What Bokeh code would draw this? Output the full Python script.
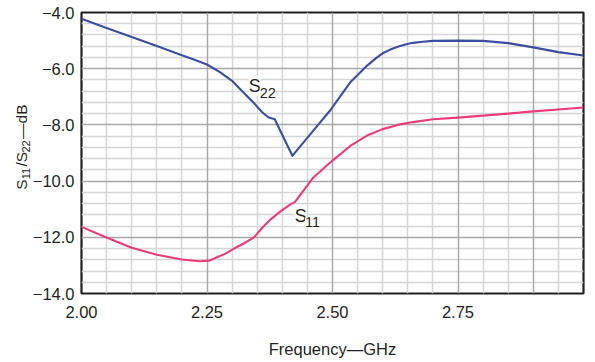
from bokeh.plotting import figure
from bokeh.models import Range1d, FixedTicker, Grid, Label
from bokeh.embed import file_html
from bokeh.resources import INLINE

# ---- data ----
freq_s22 = [2.00, 2.05, 2.10, 2.15, 2.20, 2.225, 2.25, 2.275, 2.30, 2.325, 2.345, 2.36,
            2.372, 2.385, 2.42, 2.456, 2.496, 2.51, 2.536, 2.569, 2.585, 2.601, 2.615,
            2.63, 2.645, 2.66, 2.68, 2.70, 2.75, 2.80, 2.85, 2.90, 2.95, 3.00]
s22_db = [-4.22, -4.55, -4.87, -5.19, -5.52, -5.68, -5.85, -6.11, -6.43, -6.89, -7.25, -7.55,
          -7.73, -7.80, -9.10, -8.33, -7.47, -7.12, -6.47, -5.89, -5.65, -5.44, -5.32,
          -5.22, -5.14, -5.08, -5.04, -5.01, -5.00, -5.01, -5.09, -5.24, -5.41, -5.53]

freq_s11 = [2.00, 2.05, 2.10, 2.15, 2.20, 2.235, 2.255, 2.27, 2.287, 2.304, 2.323,
            2.343, 2.35, 2.36, 2.377, 2.397, 2.417, 2.425, 2.437, 2.462, 2.50, 2.536,
            2.569, 2.60, 2.63, 2.66, 2.70, 2.75, 2.80, 2.85, 2.90, 2.95, 3.00]
s11_db = [-11.63, -12.01, -12.37, -12.62, -12.79, -12.85, -12.83, -12.71, -12.58, -12.40, -12.22,
          -12.01, -11.87, -11.66, -11.36, -11.07, -10.82, -10.75, -10.46, -9.87, -9.27, -8.74,
          -8.38, -8.15, -8.00, -7.90, -7.80, -7.74, -7.67, -7.60, -7.52, -7.45, -7.38]

x_tick_values = [2.0, 2.25, 2.5, 2.75]
x_tick_labels = ["2.00", "2.25", "2.50", "2.75"]
y_tick_values = [-14, -12, -10, -8, -6, -4]
y_tick_labels = ["\u221214.0", "\u221212.0", "\u221210.0", "\u22128.0", "\u22126.0", "\u22124.0"]

x_major_grid = [2.25, 2.5, 2.75, 2.9]
x_minor_grid = [2.05, 2.10, 2.15, 2.20, 2.30, 2.35, 2.40, 2.45, 2.55, 2.60, 2.65,
                2.70, 2.80, 2.85, 2.95]
y_major_grid = [-12, -10, -8, -6]
y_minor_grid = [-13.6, -13.2, -12.8, -12.4, -11.6, -11.2, -10.8, -10.4, -9.6, -9.2,
                -8.8, -8.4, -7.6, -7.2, -6.8, -6.4, -5.6, -5.2, -4.8, -4.4]

FONT = "Liberation Sans"
TXT = "#231f20"

p = figure(width=587, height=360, output_backend="svg", toolbar_location=None,
           x_range=Range1d(2.0, 3.0), y_range=Range1d(-14, -4),
           min_border_left=80, min_border_right=4, min_border_top=12, min_border_bottom=61)

p.grid.visible = False
p.background_fill_color = "white"
p.border_fill_color = "white"
p.outline_line_color = "#231f20"
p.outline_line_width = 2.2

for dim, ticks, color in [(0, x_minor_grid, "#d6d6d6"), (1, y_minor_grid, "#d6d6d6"),
                          (0, x_major_grid, "#a8a8a8"), (1, y_major_grid, "#a8a8a8")]:
    g = Grid(dimension=dim, ticker=FixedTicker(ticks=ticks),
             grid_line_color=color, grid_line_width=1.5)
    p.add_layout(g)

p.line(freq_s22, s22_db, line_color="#3b4e9f", line_width=2.1, line_join="round")
p.line(freq_s11, s11_db, line_color="#ec3b7b", line_width=2.1, line_join="round")

# axes
p.xaxis.ticker = FixedTicker(ticks=x_tick_values)
p.xaxis.major_label_overrides = dict(zip(x_tick_values, x_tick_labels))
p.yaxis.ticker = FixedTicker(ticks=y_tick_values)
p.yaxis.major_label_overrides = dict(zip(y_tick_values, y_tick_labels))
for ax in (p.xaxis, p.yaxis):
    ax.axis_line_color = None
    ax.major_tick_line_color = None
    ax.minor_tick_line_color = None
    ax.major_tick_out = 0
    ax.major_tick_in = 0
    ax.major_label_text_font = FONT
    ax.major_label_text_font_size = "16.5px"
    ax.major_label_text_color = TXT
    ax.axis_label_text_font = FONT
    ax.axis_label_text_font_size = "16.5px"
    ax.axis_label_text_font_style = "normal"
    ax.axis_label_text_color = TXT

p.xaxis.major_label_standoff = 12
p.yaxis.major_label_standoff = 7
p.xaxis.axis_label = "Frequency\u2014GHz"
p.xaxis.axis_label_standoff = 19

# y-axis title: a main line and a subscript line, rotated, placed in the left panel
PX_PER_X = 504.0   # pixels per GHz
PX_PER_Y = 28.7    # pixels per dB
def px_to_x(px):
    return 2.0 + (px - 80) / PX_PER_X
def px_to_y(py):
    return -4.0 - (py - 12) / PX_PER_Y

NB = "\u00a0"
y_title_main = "S" + NB * 3 + "/S" + NB * 3 + "\u2014dB"
y_title_subs = "11" + NB * 5 + "22"
p.add_layout(Label(x=px_to_x(20.0), y=px_to_y(193.0), text=y_title_main,
                   angle=90, angle_units="deg", text_font=FONT, text_font_size="15.5px",
                   text_color=TXT, text_baseline="alphabetic", text_align="left"), "left")
p.add_layout(Label(x=px_to_x(24.0), y=px_to_y(182.3), text=y_title_subs,
                   angle=90, angle_units="deg", text_font=FONT, text_font_size="11px",
                   text_color=TXT, text_baseline="alphabetic", text_align="left"), "left")

# curve labels
def add_sub_label(x, y, xs, ys, main, sub):
    p.add_layout(Label(x=x, y=y, text=main, text_font=FONT, text_font_size="18px",
                       text_color=TXT, text_baseline="alphabetic",
                       background_fill_color="white"))
    p.add_layout(Label(x=xs, y=ys, text=sub, text_font=FONT, text_font_size="14.5px",
                       text_color=TXT, text_baseline="alphabetic",
                       background_fill_color="white"))

add_sub_label(2.333, -6.62, 2.355, -6.85, "S", "22")
add_sub_label(2.425, -11.25, 2.445, -11.46, "S", "11")

open("out.html", "w").write(file_html(p, INLINE))
